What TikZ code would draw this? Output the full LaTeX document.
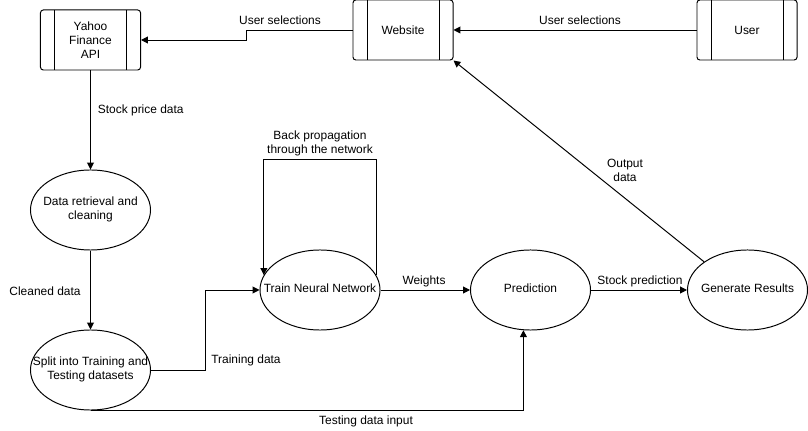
\documentclass[tikz,border=0pt]{standalone}
\usepackage{fontspec}
\setmainfont{Liberation Sans}
\usetikzlibrary{arrows.meta,shapes.geometric,calc}
\tikzset{
  procbox/.style={draw, rounded corners=2pt, minimum width=2.5cm, minimum height=1.5cm, align=center, inner sep=0pt,
    path picture={
      \draw ([xshift=0.35cm]path picture bounding box.north west) -- ([xshift=0.35cm]path picture bounding box.south west);
      \draw ([xshift=-0.35cm]path picture bounding box.north east) -- ([xshift=-0.35cm]path picture bounding box.south east);}},
  stage/.style={ellipse, draw, minimum width=3cm, minimum height=2cm, inner sep=0pt},
  flow/.style={-{Triangle[length=0.17cm,width=0.17cm]}},
  lbl/.style={inner sep=1pt, align=center}
}
\newcommand{\ctext}[1]{\makebox[0pt]{\begin{tabular}{@{}c@{}}#1\end{tabular}}}
\begin{document}
\begin{tikzpicture}[x=0.025cm,y=-0.025cm,line width=0.7pt,font=\fontsize{8.5}{10}\selectfont]
    \useasboundingbox (0,0) rectangle (808,431);
    % boxes
    \node[procbox] (yahoo) at (90.5,40) {Yahoo\\Finance\\API};
    \node[procbox] (web) at (403,30) {Website};
    \node[procbox] (user) at (747,30) {User};
    % processes
    \node[stage] (retr) at (90.5,210) {\ctext{Data retrieval and\\cleaning}};
    \node[stage] (split) at (90.5,370) {\ctext{Split into Training and\\Testing datasets}};
    \node[stage] (train) at (320,290) {\ctext{Train Neural Network}};
    \node[stage] (pred) at (530.5,290) {\ctext{Prediction}};
    \node[stage] (gen) at (747.5,290) {\ctext{Generate Results}};
    % flows
    \draw[flow] (user) -- (web);
    \draw[flow] (web.west) -- ++(-106,0) |- (yahoo.east);
    \draw[flow] (yahoo) -- (retr);
    \draw[flow] (retr) -- (split);
    \draw[flow] (split.east) -- ++(54,0) |- (train.west);
    \draw[flow] (train.15) |- ($(train.north)+(0,-90)$) -| (train.165);
    \draw[flow] (train) -- (pred);
    \draw[flow] (pred) -- (gen);
    \draw[flow] (gen.147) -- (web.south east);
    \draw[flow] (split.south) -| (pred.260);
    % labels
    \node[lbl] (selA) at (280,20) {User selections};
    \node[lbl] (selB) at (580,20) {User selections};
    \node[lbl, anchor=west] (price) at (96,110) {Stock price data};
    \node[lbl] (clean) at (45,291) {Cleaned data};
    \node[lbl] (traind) at (246,360) {Training data};
    \node[lbl] (backp) at (320,143) {Back propagation\\through the network};
    \node[lbl] (wts) at (424,281) {Weights};
    \node[lbl] (stockp) at (640,281) {Stock prediction};
    \node[lbl] (outd) at (625,170) {Output\\data};
    \node[lbl] (testd) at (366,421) {Testing data input};
\end{tikzpicture}
\end{document}
